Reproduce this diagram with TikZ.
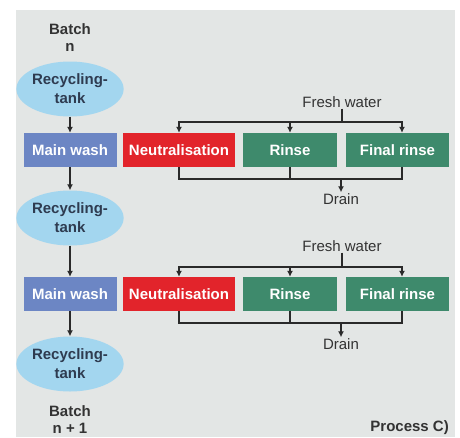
\documentclass[tikz,border=0pt]{standalone}
\usepackage{fontspec}
\setmainfont{Liberation Sans}
\usetikzlibrary{shapes.geometric, arrows.meta, positioning, calc}

\definecolor{panelgray}{HTML}{E3E6E5}
\definecolor{tankblue}{HTML}{A3D6EF}
\definecolor{tanktext}{HTML}{2E3B50}
\definecolor{washblue}{HTML}{6C86C4}
\definecolor{neutred}{HTML}{E2242B}
\definecolor{rinsegreen}{HTML}{3E8A6C}
\definecolor{linedark}{HTML}{2A2A2A}
\definecolor{textdark}{HTML}{333333}

\begin{document}
\begin{tikzpicture}[
    x=1pt, y=-1pt,
    font=\fontsize{15}{17}\selectfont,
    tank/.style={
        ellipse, fill=tankblue, minimum width=94pt, minimum height=55pt, inner sep=0pt,
        align=center, font=\fontsize{15}{19}\selectfont\bfseries, text=tanktext
    },
    stage/.style={
        rectangle, minimum height=34pt, inner sep=0pt,
        font=\fontsize{15}{17}\selectfont\bfseries, text=white
    },
    wash/.style={stage, fill=washblue, minimum width=93pt},
    neut/.style={stage, fill=neutred, minimum width=112pt},
    rinsebox/.style={stage, fill=rinsegreen, minimum width=94pt},
    finalbox/.style={stage, fill=rinsegreen, minimum width=103pt},
    flow/.style={
        -{Latex[length=6pt, width=6pt]}, line width=1.3pt, draw=linedark
    },
    pipe/.style={line width=1.3pt, draw=linedark},
    note/.style={inner sep=1pt, font=\fontsize{15}{17}\selectfont, text=textdark},
    batch/.style={
        align=center, inner sep=1pt, font=\fontsize{15}{17}\selectfont\bfseries, text=textdark
    }
]

    % Background panel
    \useasboundingbox (0,0) rectangle (460,437);
    \fill[white] (0,0) rectangle (460,437);
    \fill[panelgray] (16,10) rectangle (455,437);

    % Left column: batches, tanks and main wash
    \node[batch] (batchn) at (70,38) {Batch\\n};
    \node[tank] (tank1) at (70,89) {Recycling-\\tank};
    \node[wash] (wash1) at (70,150) {Main wash};
    \node[tank] (tank2) at (70,218) {Recycling-\\tank};
    \node[wash] (wash2) at (70,294) {Main wash};
    \node[tank] (tank3) at (70,364) {Recycling-\\tank};
    \node[batch] (batchnext) at (70,420) {Batch\\n + 1};

    % Upper rinse row
    \node[neut] (neut1) at (179,150) {Neutralisation};
    \node[rinsebox] (rinse1) at (290,150) {Rinse};
    \node[finalbox] (final1) at (397.5,150) {Final rinse};
    \node[note] (fresh1) at (342,102) {Fresh water};
    \node[note] (drain1) at (341,199) {Drain};
    \coordinate (fw1) at (342,122);
    \coordinate (dr1) at (341,179);

    % Lower rinse row
    \node[neut] (neut2) at (179,294) {Neutralisation};
    \node[rinsebox] (rinse2) at (290,294) {Rinse};
    \node[finalbox] (final2) at (397.5,294) {Final rinse};
    \node[note] (fresh2) at (342,246) {Fresh water};
    \node[note] (drain2) at (341,344) {Drain};
    \coordinate (fw2) at (342,267);
    \coordinate (dr2) at (341,323);

    % Process label
    \node[batch, anchor=east] (process) at (450,428) {Process C)};

    % Left column connections
    \draw[flow] (tank1.south) -- (wash1.north);
    \draw[flow] (wash1.south) -- (tank2.north);
    \draw[flow] (tank2.south) -- (wash2.north);
    \draw[flow] (wash2.south) -- (tank3.north);

    % Upper fresh water and drain
    \draw[pipe] (fresh1.south) -- (fw1);
    \draw[flow] (fw1) -| (neut1.north);
    \draw[flow] (fw1) -| ([xshift=4.5pt]final1.north);
    \draw[flow] (rinse1.north |- fw1) -- (rinse1.north);
    \draw[pipe] (neut1.south) |- (dr1);
    \draw[pipe] ([xshift=4.5pt]final1.south) |- (dr1);
    \draw[pipe] (rinse1.south) -- (rinse1.south |- dr1);
    \draw[flow] (dr1) -- (drain1.north);

    % Lower fresh water and drain
    \draw[pipe] (fresh2.south) -- (fw2);
    \draw[flow] (fw2) -| (neut2.north);
    \draw[flow] (fw2) -| ([xshift=4.5pt]final2.north);
    \draw[flow] (rinse2.north |- fw2) -- (rinse2.north);
    \draw[pipe] (neut2.south) |- (dr2);
    \draw[pipe] ([xshift=4.5pt]final2.south) |- (dr2);
    \draw[pipe] (rinse2.south) -- (rinse2.south |- dr2);
    \draw[flow] (dr2) -- (drain2.north);

\end{tikzpicture}
\end{document}
